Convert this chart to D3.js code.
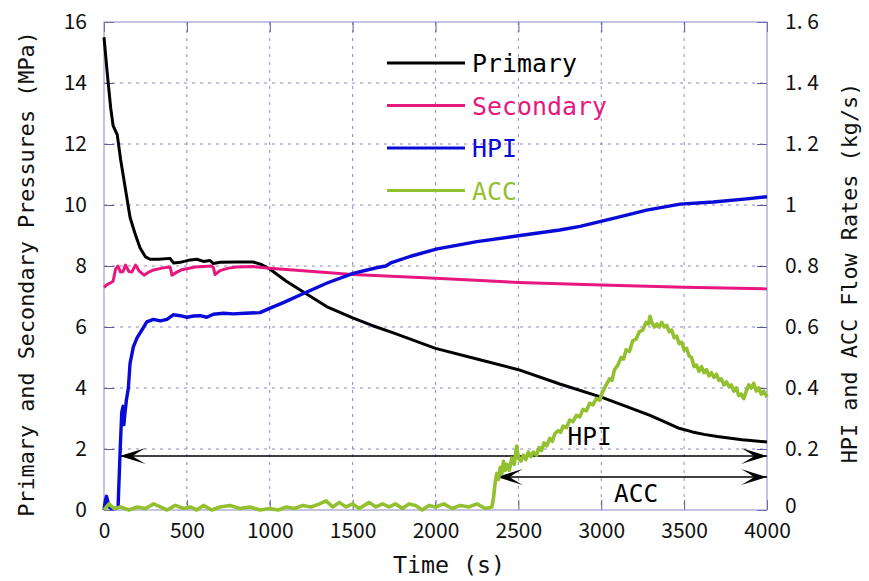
<!DOCTYPE html>
<html>
<head>
<meta charset="utf-8">
<script src="https://cdn.jsdelivr.net/npm/d3@7"></script>
<style>
  body { margin: 0; background: #fff; }
  .tick text { font-family: "Noto Sans CJK JP", "Liberation Sans", sans-serif; font-size: 21px; fill: #111; }
  .mono { font-family: "DejaVu Sans Mono", monospace; }
</style>
</head>
<body>
<div id="chart"></div>
<script>
// values: [time (s), value]
var primary = [[0,15.5],[20,14.3],[40,13.2],[55,12.6],[80,12.3],[100,11.5],[130,10.5],[157,9.6],[185,9.1],[217,8.6],[250,8.3],[278,8.22],[330,8.22],[398,8.25],[420,8.1],[460,8.12],[520,8.2],[560,8.22],[600,8.15],[640,8.18],[660,8.08],[700,8.12],[800,8.13],[900,8.13],[950,8.05],[1000,7.9],[1100,7.5],[1232,7.05],[1350,6.65],[1500,6.3],[1617,6.05],[1750,5.8],[2000,5.3],[2250,4.95],[2500,4.6],[2750,4.13],[3000,3.7],[3150,3.4],[3294,3.1],[3400,2.85],[3470,2.68],[3550,2.56],[3620,2.48],[3700,2.41],[3850,2.3],[4000,2.23]];

var secondary = [[0,7.3],[20,7.4],[40,7.45],[55,7.5],[70,7.9],[84,8.0],[100,7.8],[115,7.82],[130,8.03],[150,7.82],[168,7.8],[190,8.03],[210,7.85],[242,7.7],[270,7.8],[300,7.87],[350,7.93],[390,7.97],[400,7.95],[410,7.7],[440,7.8],[470,7.88],[550,7.97],[650,8.0],[660,7.95],[670,7.72],[700,7.85],[750,7.93],[800,7.97],[900,7.98],[1000,7.93],[1500,7.72],[2000,7.6],[2500,7.46],[3000,7.38],[3500,7.3],[4000,7.25]];

var hpi = [[0,0],[8,0.03],[15,0.045],[22,0.03],[30,0.01],[45,0.005],[70,0.005],[85,0.01],[97,0.19],[107,0.32],[115,0.34],[120,0.28],[125,0.31],[135,0.36],[147,0.40],[157,0.48],[177,0.535],[200,0.565],[217,0.58],[240,0.60],[258,0.617],[298,0.625],[340,0.62],[380,0.625],[418,0.64],[460,0.637],[500,0.632],[540,0.636],[580,0.637],[620,0.632],[660,0.642],[720,0.645],[780,0.643],[850,0.645],[941,0.647],[1002,0.662],[1082,0.68],[1203,0.71],[1350,0.745],[1503,0.776],[1650,0.795],[1700,0.80],[1730,0.81],[1850,0.832],[2011,0.856],[2250,0.88],[2510,0.90],[2750,0.918],[2872,0.93],[3073,0.956],[3274,0.983],[3476,1.003],[3676,1.01],[3878,1.02],[4000,1.027]];

var acc = [[0,0.0],[30,0.02],[60,0.005],[100,0.01],[150,0.0],[200,0.01],[250,0.005],[300,0.02],[340,0.01],[380,0.0],[430,0.015],[480,0.005],[520,0.01],[560,0.0],[600,0.015],[650,0.0],[700,0.01],[760,0.015],[820,0.005],[880,0.01],[940,0.0],[1000,0.005],[1050,0.0],[1100,0.01],[1150,0.005],[1200,0.015],[1250,0.01],[1300,0.02],[1340,0.03],[1380,0.01],[1420,0.025],[1460,0.01],[1500,0.02],[1540,0.005],[1600,0.025],[1640,0.01],[1680,0.02],[1720,0.01],[1760,0.02],[1800,0.005],[1840,0.02],[1880,0.015],[1920,0.0],[1960,0.015],[2000,0.01],[2050,0.02],[2100,0.005],[2150,0.015],[2200,0.01],[2250,0.02],[2300,0.005],[2340,0.01],
  [2350,0.04],[2360,0.09],[2370,0.12],[2380,0.10],[2390,0.14],[2400,0.12],[2410,0.16],[2420,0.13],[2430,0.15],[2445,0.13],[2460,0.17],[2475,0.15],[2490,0.21],[2500,0.17],[2515,0.16],[2530,0.18],[2545,0.165],[2560,0.19],[2575,0.175],[2590,0.19],[2610,0.18],[2625,0.205],[2640,0.195],[2655,0.22],[2670,0.21],[2690,0.235],[2705,0.225],[2720,0.25],[2740,0.26],[2755,0.255],[2770,0.275],[2790,0.27],[2810,0.295],[2830,0.29],[2850,0.31],[2870,0.305],[2890,0.33],[2910,0.325],[2930,0.35],[2950,0.345],[2970,0.365],[2990,0.36],[3010,0.39],[3030,0.41],[3050,0.43],[3065,0.425],[3080,0.46],[3100,0.475],[3120,0.50],[3135,0.495],[3150,0.525],[3170,0.52],[3190,0.555],[3210,0.56],[3230,0.585],[3250,0.59],[3270,0.615],[3285,0.61],[3294,0.635],[3305,0.615],[3320,0.6],[3335,0.61],[3350,0.6],[3365,0.615],[3380,0.6],[3395,0.605],[3410,0.585],[3425,0.59],[3440,0.565],[3455,0.57],[3470,0.545],[3485,0.55],[3500,0.525],[3515,0.53],[3530,0.505],[3545,0.5],[3560,0.47],[3575,0.475],[3590,0.455],[3605,0.47],[3620,0.45],[3635,0.46],[3650,0.44],[3665,0.45],[3680,0.435],[3695,0.445],[3710,0.425],[3725,0.43],[3740,0.41],[3755,0.42],[3770,0.405],[3785,0.41],[3800,0.39],[3815,0.40],[3830,0.375],[3845,0.38],[3860,0.365],[3875,0.39],[3890,0.41],[3905,0.40],[3920,0.415],[3935,0.39],[3950,0.40],[3965,0.38],[3980,0.39],[4000,0.37]];

var xTicks = [0, 500, 1000, 1500, 2000, 2500, 3000, 3500, 4000];
var pressureTicks = [0, 2, 4, 6, 8, 10, 12, 14, 16];
var flowTicks = [0, 0.2, 0.4, 0.6, 0.8, 1, 1.2, 1.4, 1.6];

// injection periods: [start, end] time and flow level of the arrow
var hpiSpan = { label: "HPI", start: 95, end: 4000, level: 0.177 };
var accSpan = { label: "ACC", start: 2370, end: 4000, level: 0.108 };

var legendItems = [
  { name: "Primary", color: "#000000" },
  { name: "Secondary", color: "#e8177f" },
  { name: "HPI", color: "#0a0ad8" },
  { name: "ACC", color: "#93c02e" }
];

var margin = { top: 22, right: 102, bottom: 71, left: 104 },
    width = 869 - margin.left - margin.right,
    height = 581 - margin.top - margin.bottom;

var x = d3.scaleLinear().domain([0, 4000]).range([0, width]);
var yP = d3.scaleLinear().domain([0, 16]).range([height, 0]);
var yF = d3.scaleLinear().domain([0, 1.6]).range([height, 0]);

var svg = d3.select("#chart").append("svg").attr("width", 869).attr("height", 581)
  .append("g").attr("transform", "translate(" + margin.left + "," + margin.top + ")");

var gridColor = "#8a8ac4";

// dashed grid
svg.append("g").selectAll("line.v").data(xTicks.slice(1, -1)).enter().append("line")
  .attr("x1", function (d) { return x(d); }).attr("x2", function (d) { return x(d); })
  .attr("y1", 0).attr("y2", height)
  .attr("stroke", gridColor).attr("stroke-dasharray", "3,5");
svg.append("g").selectAll("line.h").data(pressureTicks.slice(1, -1)).enter().append("line")
  .attr("y1", function (d) { return yP(d); }).attr("y2", function (d) { return yP(d); })
  .attr("x1", 0).attr("x2", width)
  .attr("stroke", gridColor).attr("stroke-dasharray", "3,5");

// axes with inward ticks
var flowFormat = function (d) {
  if (d === 0 || d === 1) return String(d);
  return d3.format(".1f")(d).replace(".", ". ");
};
var gl = svg.append("g").call(d3.axisLeft(yP).tickValues(pressureTicks).tickSize(-10).tickPadding(17));
var gr = svg.append("g").attr("transform", "translate(" + width + ",0)")
  .call(d3.axisRight(yF).tickValues(flowTicks).tickSize(-10).tickPadding(18).tickFormat(flowFormat));
var gb = svg.append("g").attr("transform", "translate(0," + height + ")")
  .call(d3.axisBottom(x).tickValues(xTicks).tickSize(-10).tickPadding(13).tickFormat(d3.format("d")));
var gt = svg.append("g").call(d3.axisTop(x).tickValues(xTicks).tickSize(-10).tickFormat(""));
[gl, gr, gb, gt].forEach(function (g) {
  g.select(".domain").remove();
  g.selectAll(".tick line").attr("stroke", "#5a5aa0");
});
gr.selectAll(".tick text").filter(function (d) { return d === 0; }).attr("dy", "0.1em");

svg.append("rect").attr("width", width).attr("height", height)
  .attr("fill", "none").attr("stroke", gridColor).attr("stroke-width", 1);

// arrowheads
var defs = svg.append("defs");
defs.append("marker").attr("id", "head").attr("markerUnits", "userSpaceOnUse")
  .attr("viewBox", "-28 -10 30 20").attr("refX", 0).attr("refY", 0)
  .attr("markerWidth", 30).attr("markerHeight", 20).attr("orient", "auto-start-reverse")
  .append("path").attr("d", "M0,0 L-26,-8 Q-17,-3 -13,0 Q-17,3 -26,8 Z").attr("fill", "#000");

[hpiSpan, accSpan].forEach(function (s) {
  svg.append("line")
    .attr("x1", x(s.start)).attr("x2", x(s.end))
    .attr("y1", yF(s.level)).attr("y2", yF(s.level))
    .attr("stroke", "#000").attr("stroke-width", 1.5)
    .attr("marker-start", "url(#head)").attr("marker-end", "url(#head)");
});
svg.append("text").attr("class", "mono").attr("x", x(2930)).attr("y", yF(hpiSpan.level) - 11)
  .attr("text-anchor", "middle").attr("font-size", 24.4).text(hpiSpan.label);
svg.append("text").attr("class", "mono").attr("x", x(3210)).attr("y", yF(accSpan.level) + 25)
  .attr("text-anchor", "middle").attr("font-size", 24.4).text(accSpan.label);

// series
var lineP = d3.line().x(function (d) { return x(d[0]); }).y(function (d) { return yP(d[1]); });
var lineF = d3.line().x(function (d) { return x(d[0]); }).y(function (d) { return yF(d[1]); });

svg.append("path").datum(primary).attr("d", lineP).attr("fill", "none")
  .attr("stroke", legendItems[0].color).attr("stroke-width", 3).attr("stroke-linejoin", "round");
svg.append("path").datum(secondary).attr("d", lineP).attr("fill", "none")
  .attr("stroke", legendItems[1].color).attr("stroke-width", 3).attr("stroke-linejoin", "round");
svg.append("path").datum(hpi).attr("d", lineF).attr("fill", "none")
  .attr("stroke", legendItems[2].color).attr("stroke-width", 3.4).attr("stroke-linejoin", "round");
svg.append("path").datum(acc).attr("d", lineF).attr("fill", "none")
  .attr("stroke", legendItems[3].color).attr("stroke-width", 3.6).attr("stroke-linejoin", "round");

// legend
var legend = svg.append("g").attr("transform", "translate(" + (387 - margin.left) + "," + (63 - margin.top) + ")");
legendItems.forEach(function (d, i) {
  var g = legend.append("g").attr("transform", "translate(0," + (i * 42.5) + ")");
  g.append("line").attr("x1", 0).attr("x2", 78).attr("stroke", d.color).attr("stroke-width", 3);
  g.append("text").attr("class", "mono").attr("x", 85).attr("y", 9).attr("font-size", 24.9)
    .attr("fill", d.color).text(d.name);
});

// axis titles
svg.append("text").attr("class", "mono").attr("font-size", 21.8).attr("fill", "#111")
  .attr("text-anchor", "middle").attr("transform", "translate(" + (34 - margin.left) + "," + (274 - margin.top) + ") rotate(-90)")
  .text("Primary and Secondary Pressures (MPa)");
svg.append("text").attr("class", "mono").attr("font-size", 21.8).attr("fill", "#111")
  .attr("text-anchor", "middle").attr("transform", "translate(" + (857 - margin.left) + "," + (273 - margin.top) + ") rotate(-90)")
  .text("HPI and ACC Flow Rates (kg/s)");
svg.append("text").attr("class", "mono").attr("font-size", 23.3).attr("fill", "#111")
  .attr("text-anchor", "middle").attr("x", 449 - margin.left).attr("y", 573 - margin.top)
  .text("Time (s)");
</script>
</body>
</html>
